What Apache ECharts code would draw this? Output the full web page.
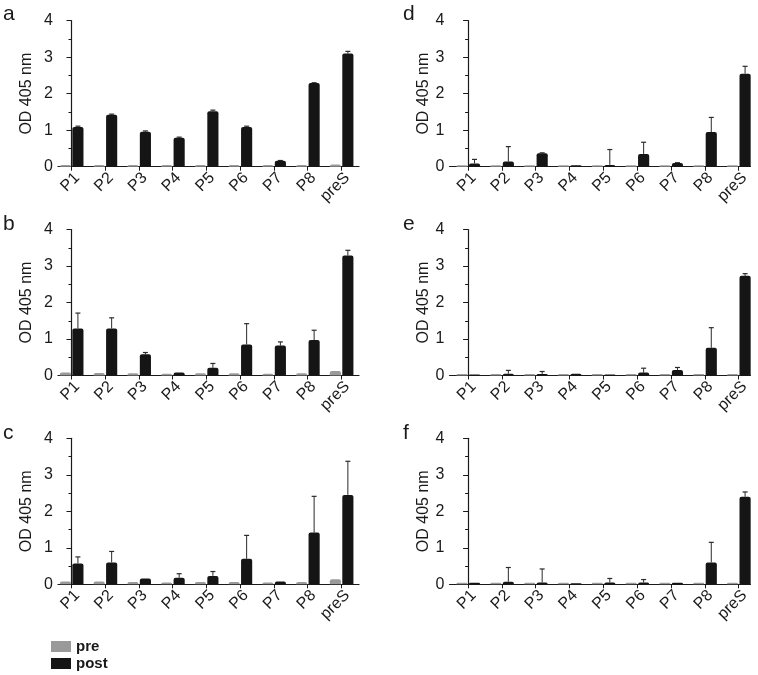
<!DOCTYPE html>
<html><head><meta charset="utf-8">
<script src="https://cdn.jsdelivr.net/npm/echarts@6/dist/echarts.min.js"></script>
<style>html,body{margin:0;padding:0;background:#fff}#c{width:758px;height:675px}</style>
</head><body><div id="c"></div>
<script>
const categories = ['P1','P2','P3','P4','P5','P6','P7','P8','preS'];
const panelLetters = ['a','b','c','d','e','f'];
const yTicks = [0,1,2,3,4];
const yName = 'OD 405 nm';
const seriesNames = ['pre','post'];

const preA  = [0.05,0.05,0.05,0.05,0.05,0.05,0.05,0.05,0.06];
const postA = [1.09,1.42,0.96,0.79,1.52,1.09,0.16,2.29,3.10];
const errA  = [0.02,0.02,0.02,0.02,0.03,0.02,0.01,0.01,0.06];

const preB  = [0.08,0.07,0.06,0.05,0.06,0.06,0.05,0.06,0.12];
const postB = [1.29,1.29,0.58,0.08,0.21,0.85,0.82,0.97,3.29];
const errB  = [0.42,0.29,0.05,0.00,0.12,0.57,0.10,0.27,0.14];

const preC  = [0.08,0.08,0.06,0.05,0.06,0.06,0.05,0.06,0.14];
const postC = [0.57,0.60,0.16,0.18,0.23,0.70,0.08,1.42,2.45];
const errC  = [0.18,0.30,0.00,0.11,0.12,0.64,0.00,0.99,0.92];

const preD  = [0.04,0.04,0.04,0.04,0.04,0.04,0.04,0.04,0.04];
const postD = [0.09,0.14,0.37,0.04,0.05,0.35,0.10,0.95,2.55];
const errD  = [0.11,0.41,0.01,0.00,0.42,0.32,0.01,0.40,0.20];

const preE  = [0.04,0.04,0.04,0.04,0.04,0.04,0.04,0.04,0.04];
const postE = [0.03,0.05,0.04,0.05,0.03,0.08,0.15,0.76,2.73];
const errE  = [0.00,0.09,0.07,0.00,0.00,0.12,0.07,0.55,0.06];

const preF  = [0.04,0.04,0.04,0.04,0.04,0.04,0.04,0.04,0.04];
const postF = [0.04,0.07,0.05,0.03,0.05,0.05,0.04,0.60,2.40];
const errF  = [0.00,0.39,0.37,0.00,0.11,0.08,0.00,0.55,0.13];

const panels = [
  {pre:preA, post:postA, err:errA},
  {pre:preB, post:postB, err:errB},
  {pre:preC, post:postC, err:errC},
  {pre:preD, post:postD, err:errD},
  {pre:preE, post:postE, err:errE},
  {pre:preF, post:postF, err:errF}
];

const FONT = "'Liberation Sans', Arial, Helvetica, sans-serif";
const PRE_COLOR = '#9a9a9a';
const POST_COLOR = '#151515';
const rowsTop = [20.7, 229.5, 438.3];
const colLeft = [58, 449.5];
const colXMin = [-0.40, -0.55];
const colXMax = [8.52, 8.35];
const colNameGap = [23, 17.5];
const idx = categories.map((c,i)=>i);

const grids = [], xAxes = [], yAxes = [], series = [], graphics = [];
panels.forEach((p, k) => {
  const col = k < 3 ? 0 : 1, row = k % 3;
  grids.push({left: colLeft[col], top: rowsTop[row], width: 301, height: 146, containLabel: false});
  xAxes.push({
    type: 'value', gridIndex: k, min: colXMin[col], max: colXMax[col],
    splitLine: {show: false},
    axisLine: {show: true, onZero: false, lineStyle: {color: '#1a1a1a', width: 1.2}},
    axisTick: {show: true, customValues: idx, length: 4, lineStyle: {color: '#1a1a1a'}},
    axisLabel: {show: true, customValues: idx, rotate: 45, margin: 3, align: 'right', verticalAlign: 'top',
      fontFamily: FONT, fontSize: 16, color: '#1a1a1a',
      formatter: v => categories[Math.round(v)]}
  });
  yAxes.push({
    type: 'value', gridIndex: k, min: yTicks[0], max: yTicks[yTicks.length-1], interval: 1,
    name: yName, nameLocation: 'middle', nameGap: colNameGap[col],
    nameTextStyle: {fontFamily: FONT, fontSize: 16, color: '#1a1a1a'},
    splitLine: {show: false},
    axisLine: {show: true, lineStyle: {color: '#1a1a1a', width: 1.2}},
    axisTick: {show: true, length: 5, lineStyle: {color: '#1a1a1a'}},
    minorTick: {show: true, splitNumber: 2, length: 3, lineStyle: {color: '#1a1a1a'}},
    axisLabel: {margin: 5, fontFamily: FONT, fontSize: 16, color: '#1a1a1a'}
  });
  [['pre', p.pre, null, -0.18, PRE_COLOR], ['post', p.post, p.err, 0.19, POST_COLOR]].forEach(([nm, vals, errs, off, color]) => {
    series.push({
      type: 'custom', name: nm, xAxisIndex: k, yAxisIndex: k,
      itemStyle: {color: color},
      data: vals.map((v,i) => [i, v, errs ? errs[i] : 0]),
      encode: {x: 0, y: 1},
      renderItem: (params, api) => {
        const i = api.value(0), v = api.value(1), e = api.value(2);
        const top = api.coord([i + off, v]);
        const base = api.coord([i + off, 0]);
        const w = api.size([0.33, 0])[0];
        const children = [];
        if (e > 0) {
          const ep = api.coord([i + off, v + e]);
          children.push({type: 'line', shape: {x1: top[0], y1: top[1], x2: ep[0], y2: ep[1]}, style: {stroke: '#2a2a2a', lineWidth: 1}});
          children.push({type: 'line', shape: {x1: ep[0]-2.5, y1: ep[1], x2: ep[0]+2.5, y2: ep[1]}, style: {stroke: '#2a2a2a', lineWidth: 1.2}});
        }
        children.push({type: 'rect', shape: {x: top[0] - w/2, y: top[1], width: w, height: base[1] - top[1], r: [2,2,0,0]},
          style: {fill: color}});
        return {type: 'group', children: children};
      }
    });
  });
  graphics.push({type: 'text', left: col ? 403 : 3, top: rowsTop[row] - (row === 0 ? 17 : 16),
    style: {text: panelLetters[k], font: '21px ' + FONT, fill: '#1a1a1a'}});
});

const legendBase = {
  orient: 'vertical', left: 51, itemWidth: 20, itemHeight: 11, itemGap: 0, padding: 0,
  selectedMode: false,
  textStyle: {fontFamily: FONT, fontSize: 15, fontWeight: 'bold', color: '#1a1a1a'}
};

const chart = echarts.init(document.getElementById('c'), null, {renderer: 'canvas'});
chart.setOption({
  animation: false,
  backgroundColor: '#fff',
  grid: grids, xAxis: xAxes, yAxis: yAxes, series: series,
  graphic: graphics,
  legend: [
    Object.assign({}, legendBase, {top: 639, data: [{name: seriesNames[0], icon: 'rect'}]}),
    Object.assign({}, legendBase, {top: 656, data: [{name: seriesNames[1], icon: 'rect'}]})
  ]
});
</script></body></html>
